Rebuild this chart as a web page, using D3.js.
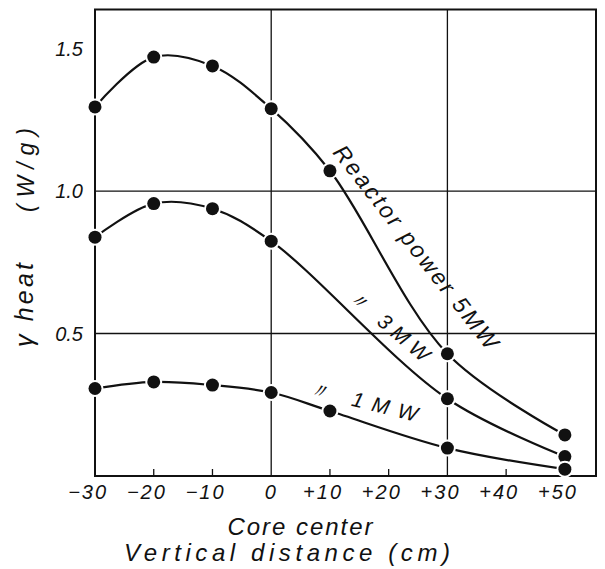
<!DOCTYPE html>
<html>
<head>
<meta charset="utf-8">
<script src="https://cdn.jsdelivr.net/npm/d3@7"></script>
<style>
  html, body { margin: 0; padding: 0; background: #fff; }
  svg { display: block; }
  text { font-family: "Liberation Sans", "DejaVu Sans", sans-serif; font-style: italic; fill: #111; }
</style>
</head>
<body>
<svg id="chart" width="605" height="569"></svg>
<script>
// ---- data ----
const positions = [-30, -20, -10, 0, 10, 30, 50];            // vertical distance (cm)
const power5MW  = [1.295, 1.47, 1.439, 1.289, 1.071, 0.429, 0.144];
const power3MW  = [0.838, 0.956, 0.938, 0.824, null, 0.271, 0.068];
const power1MW  = [0.307, 0.330, 0.319, 0.293, 0.228, 0.098, 0.024];
const xTickValues = [-30, -20, -10, 0, 10, 20, 30, 40, 50];
const xTickLabels = ["−30", "−20", "−10", "0", "+10", "+20", "+30", "+40", "+50"];
const yTickValues = [0.5, 1.0, 1.5];
const yTickLabels = ["0.5", "1.0", "1.5"];
const xGridValues = [0, 30];
const yGridValues = [0.5, 1.0];
const seriesNames = ["Reactor power 5MW", "〃  3MW", "〃  1MW"];

const svg = d3.select("#chart");
const ink = "#111";

const x = d3.scaleLinear().domain([-30, 55.3]).range([95, 596]);
const y = d3.scaleLinear().domain([0, 1.637]).range([476, 9.5]);

// grid
svg.append("g").selectAll("line").data(yGridValues).join("line")
  .attr("x1", x.range()[0]).attr("x2", x.range()[1])
  .attr("y1", d => y(d)).attr("y2", d => y(d))
  .attr("stroke", ink).attr("stroke-width", 1.3);
svg.append("g").selectAll("line").data(xGridValues).join("line")
  .attr("x1", d => x(d)).attr("x2", d => x(d))
  .attr("y1", y.range()[0]).attr("y2", y.range()[1])
  .attr("stroke", ink).attr("stroke-width", 1.3);

// frame
svg.append("rect")
  .attr("x", x.range()[0]).attr("y", y.range()[1])
  .attr("width", x.range()[1] - x.range()[0])
  .attr("height", y.range()[0] - y.range()[1])
  .attr("fill", "none").attr("stroke", ink).attr("stroke-width", 2);

// small inward ticks on bottom axis
svg.append("g").selectAll("line")
  .data(xTickValues.filter(v => v !== -30 && !xGridValues.includes(v)))
  .join("line")
  .attr("x1", d => x(d)).attr("x2", d => x(d))
  .attr("y1", y(0)).attr("y2", y(0) - 7)
  .attr("stroke", ink).attr("stroke-width", 1.3);

// x tick labels: digits centred on the tick, sign hanging to the left
const xLab = svg.append("g").attr("font-size", 20).attr("letter-spacing", 2);
xTickValues.forEach((v, i) => {
  const lab = xTickLabels[i];
  const digits = lab.replace(/[+−\-]/g, "");
  const tmp = xLab.append("text").text(digits);
  const w = tmp.node().getComputedTextLength();
  tmp.remove();
  xLab.append("text")
    .attr("x", x(v) + w / 2).attr("y", 492)
    .attr("text-anchor", "end").attr("dominant-baseline", "central")
    .text(lab);
});

// y tick labels
svg.append("g").attr("font-size", 20).selectAll("text").data(yTickValues).join("text")
  .attr("x", 83).attr("y", d => y(d))
  .attr("text-anchor", "end").attr("dominant-baseline", "central")
  .text((d, i) => yTickLabels[i]);

// curves
const series = [power5MW, power3MW, power1MW];
const line = d3.line()
  .x(d => x(d[0])).y(d => y(d[1]))
  .curve(d3.curveCatmullRom.alpha(0.5));

series.forEach(vals => {
  const pts = positions.map((p, i) => [p, vals[i]]).filter(d => d[1] !== null);
  svg.append("path").datum(pts)
    .attr("d", line)
    .attr("fill", "none").attr("stroke", ink).attr("stroke-width", 2.2);
});
series.forEach(vals => {
  const pts = positions.map((p, i) => [p, vals[i]]).filter(d => d[1] !== null);
  svg.append("g").selectAll("circle").data(pts).join("circle")
    .attr("cx", d => x(d[0])).attr("cy", d => y(d[1]))
    .attr("r", 6.5)
    .attr("fill", ink).attr("stroke", "#fff").attr("stroke-width", 4)
    .attr("paint-order", "stroke");
});

// series labels
function rotLabel(txt, cx, cy, angle, size, len) {
  svg.append("text")
    .attr("transform", `translate(${cx},${cy}) rotate(${angle})`)
    .attr("text-anchor", "middle").attr("dominant-baseline", "central")
    .attr("font-size", size)
    .attr("textLength", len).attr("lengthAdjust", "spacing")
    .text(txt);
}
rotLabel(seriesNames[0], 416, 247, 52, 23, 252);
rotLabel(seriesNames[1], 389, 325, 40, 21, 100);
rotLabel(seriesNames[2], 363, 401, 14, 21, 112);

// axis titles
svg.append("text").attr("x", 300).attr("y", 535)
  .attr("text-anchor", "middle").attr("font-size", 24)
  .attr("textLength", 145).attr("lengthAdjust", "spacing")
  .text("Core center");
svg.append("text").attr("x", 287).attr("y", 561)
  .attr("text-anchor", "middle").attr("font-size", 24)
  .attr("textLength", 326).attr("lengthAdjust", "spacing")
  .text("Vertical distance (cm)");

svg.append("text")
  .attr("transform", "translate(33,305) rotate(-90)")
  .attr("text-anchor", "middle").attr("font-size", 25)
  .attr("textLength", 84).attr("lengthAdjust", "spacing")
  .text("γ heat");
svg.append("text")
  .attr("transform", "translate(34,170) rotate(-90)")
  .attr("text-anchor", "middle").attr("font-size", 23)
  .attr("textLength", 84).attr("lengthAdjust", "spacing")
  .text("(W/g)");
</script>
</body>
</html>
